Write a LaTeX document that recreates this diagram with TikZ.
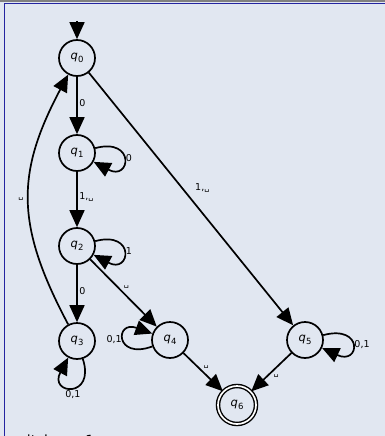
\documentclass[tikz,border=0pt]{standalone}
\usepackage{fontspec}
\setmainfont{DejaVu Sans}
\usetikzlibrary{arrows.meta}
\definecolor{bgc}{HTML}{E1E7F1}
\definecolor{barc}{HTML}{808080}
\definecolor{framec}{HTML}{2424A0}
\newcommand\qs[1]{\textit{q}\kern0.2pt\raisebox{-2.5pt}{\fontsize{8.5}{8.5}\selectfont #1}}
\newcommand\bl{{\fontsize{8}{8}\selectfont\char"2423}}
\begin{document}
\begin{tikzpicture}[x=1pt,y=-1pt,
  state/.style={circle,draw,line width=1.7pt,minimum size=36pt,inner sep=0pt,font=\fontsize{11.5}{11.5}\selectfont},
  accept/.style={double,double distance=1.7pt,line width=1.4pt,minimum size=38pt},
  arr/.style={line width=1.7pt,-{Triangle[length=17pt,width=15pt]}},
  lbl/.style={font=\fontsize{9.5}{10}\selectfont,inner sep=1.5pt}]
\fill[bgc] (0,0) rectangle (385,436);
\useasboundingbox (0,0) rectangle (385,436);
\fill[barc] (0,0) rectangle (385,2.5);
\draw[framec,line width=1.3pt] (4.6,436) -- (4.6,3.2) -- (385,3.2);
% states
\node[state] (q0) at (77,58) {\qs0};
\node[state] (q1) at (77,153) {\qs1};
\node[state] (q2) at (77,246) {\qs2};
\node[state] (q3) at (77,341) {\qs3};
\node[state] (q4) at (170,340) {\qs4};
\node[state] (q5) at (305,340) {\qs5};
\node[state,accept] (q6) at (237,405) {\qs6};
\coordinate (init) at (77,21);
% edges
\draw[arr] (init) -- (q0);
\draw[arr] (q0) -- node[lbl,right,pos=0.45]{0} (q1);
\draw[arr] (q1) to[out=15,in=-28,looseness=1,min distance=42pt] node[lbl,right]{0} (q1);
\draw[arr] (q1) -- node[lbl,right,pos=0.45]{1,\bl} (q2);
\draw[arr] (q2) to[out=15,in=-28,looseness=1,min distance=42pt] node[lbl,right]{1} (q2);
\draw[arr] (q2) -- node[lbl,right,pos=0.45]{0} (q3);
\draw[arr] (q2) -- node[lbl,above right,pos=0.47]{\bl} (q4);
\draw[arr] (q3) to[out=118,in=242,looseness=1.15] node[lbl,left,pos=0.5,xshift=-3pt]{\bl} (q0);
\draw[arr] (q0) -- node[lbl,above right,pos=0.47,xshift=8pt,yshift=-3pt]{1,\bl} (q5);
\draw[arr] (q3) to[out=-72,in=-118,looseness=1,min distance=42pt] node[lbl,below,yshift=-1pt]{0,1} (q3);
\draw[arr] (q4) to[out=200,in=160,looseness=1,min distance=40pt] node[lbl,left]{0,1} (q4);
\draw[arr] (q5) to[out=15,in=-25,looseness=1,min distance=42pt] node[lbl,right]{0,1} (q5);
\draw[arr] (q4) -- node[lbl,above right,pos=0.45]{\bl} (q6);
\draw[arr] (q5) -- node[lbl,below right,pos=0.5]{\bl} (q6);
\begin{scope}
\clip (0,0) rectangle (385,436);
\node[anchor=base west,inner sep=0pt,font=\fontsize{14}{14}\selectfont] (cap) at (8,445) {switch == 1};
\end{scope}
\end{tikzpicture}
\end{document}
